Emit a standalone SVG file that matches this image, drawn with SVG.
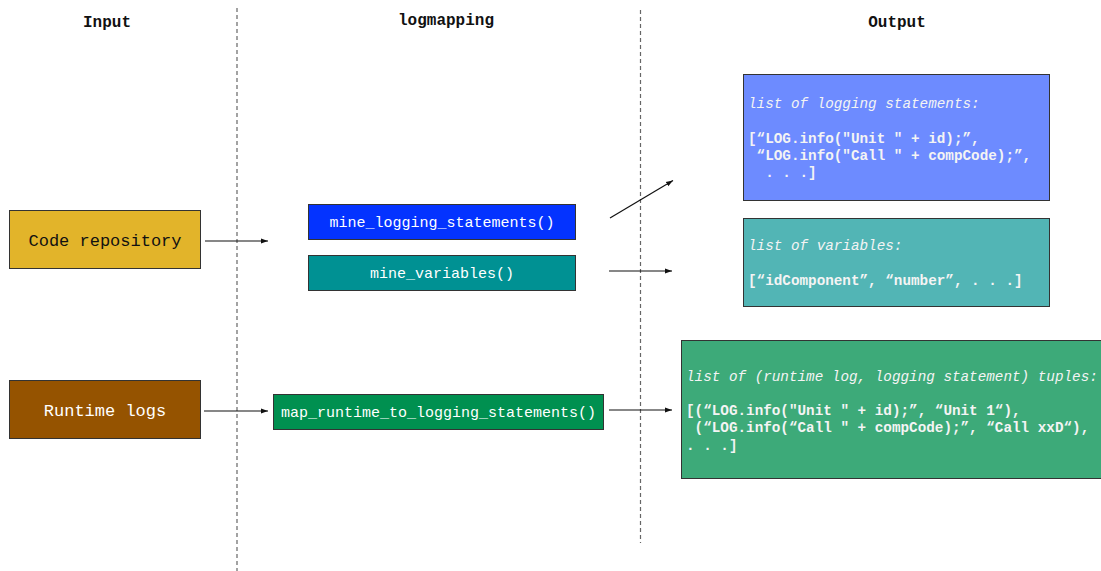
<svg xmlns="http://www.w3.org/2000/svg" width="1101" height="571" viewBox="0 0 1101 571">
<style>
  .title { font-family: "Liberation Mono", "Courier New", monospace; font-weight: bold; font-size: 16px; fill: #111; text-anchor: middle; }
  .box { stroke: #333; stroke-width: 1; }
  .lbl { font-family: "Liberation Mono", "Courier New", monospace; text-anchor: middle; }
  .out { font-family: "Liberation Mono", "Courier New", monospace; font-size: 14.3px; fill: #f4f4f4; white-space: pre; }
  .it { font-style: italic; }
  .bd { font-weight: bold; }
  .sep { stroke: #666; stroke-width: 1.2; stroke-dasharray: 4 3; fill: none; }
  .conn { stroke: #111; stroke-width: 1.2; fill: none; marker-end: url(#ah); }
</style>
<defs>
  <marker id="ah" markerWidth="8" markerHeight="6" refX="7" refY="3" orient="auto" markerUnits="userSpaceOnUse">
    <path d="M0,0.5 L7,3 L0,5.5 z" fill="#111"/>
  </marker>
</defs>
<rect width="1101" height="571" fill="#ffffff"/>

<g id="separators">
  <line class="sep" x1="237" y1="8" x2="237" y2="571"/>
  <line class="sep" x1="640.5" y1="10" x2="640.5" y2="543"/>
</g>

<g id="titles">
  <text class="title" x="107" y="27">Input</text>
  <text class="title" x="446" y="25">logmapping</text>
  <text class="title" x="897" y="27">Output</text>
</g>

<g id="code-repository">
  <rect class="box" x="9.5" y="210.5" width="191" height="58" fill="#E2B42A"/>
  <text class="lbl" x="105" y="246" font-size="17px" fill="#111">Code repository</text>
</g>

<g id="runtime-logs">
  <rect class="box" x="9.5" y="380.5" width="191" height="58" fill="#955300"/>
  <text class="lbl" x="105" y="416" font-size="17px" fill="#ffffff">Runtime logs</text>
</g>

<g id="mine-logging-statements">
  <rect class="box" x="308.5" y="204.5" width="267" height="35" fill="#0433FF"/>
  <text class="lbl" x="442" y="227" font-size="15px" fill="#ffffff">mine_logging_statements()</text>
</g>

<g id="mine-variables">
  <rect class="box" x="308.5" y="255.5" width="267" height="35" fill="#009193"/>
  <text class="lbl" x="442" y="278" font-size="15px" fill="#ffffff">mine_variables()</text>
</g>

<g id="map-runtime">
  <rect class="box" x="273.5" y="394.5" width="330" height="35" fill="#009050"/>
  <text class="lbl" x="438.5" y="417" font-size="15px" fill="#ffffff">map_runtime_to_logging_statements()</text>
</g>

<g id="out-logging-statements">
  <rect class="box" x="743.5" y="74.5" width="306" height="126" fill="#6D8BFF"/>
  <text class="out it" x="748" y="108">list of logging statements:</text>
  <text class="out bd" x="748" y="143">[“LOG.info("Unit " + id);”,</text>
  <text class="out bd" x="748" y="160"> “LOG.info("Call " + compCode);”,</text>
  <text class="out bd" x="748" y="177">  . . .]</text>
</g>

<g id="out-variables">
  <rect class="box" x="743.5" y="218.5" width="306" height="88" fill="#52B5B5"/>
  <text class="out it" x="748" y="250">list of variables:</text>
  <text class="out bd" x="748" y="285">[“idComponent”, “number”, . . .]</text>
</g>

<g id="out-tuples">
  <rect class="box" x="681.5" y="340.5" width="425" height="138" fill="#3DAA79"/>
  <text class="out it" x="686" y="381">list of (runtime log, logging statement) tuples:</text>
  <text class="out bd" x="686" y="415">[(“LOG.info("Unit " + id);”, “Unit 1“),</text>
  <text class="out bd" x="686" y="432"> (“LOG.info(“Call " + compCode);”, “Call xxD“),</text>
  <text class="out bd" x="686" y="450">. . .]</text>
</g>

<g id="connectors">
  <line class="conn" x1="205" y1="241" x2="268" y2="241"/>
  <line class="conn" x1="610" y1="218" x2="673" y2="180.5"/>
  <line class="conn" x1="609" y1="271" x2="672" y2="271"/>
  <line class="conn" x1="204" y1="411" x2="268" y2="411"/>
  <line class="conn" x1="609" y1="410" x2="672" y2="410"/>
</g>
</svg>
